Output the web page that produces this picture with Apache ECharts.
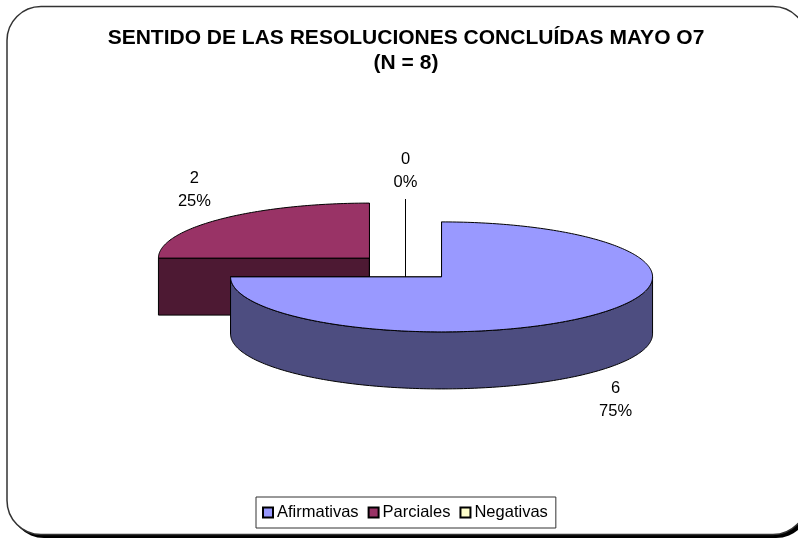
<!DOCTYPE html>
<html>
<head>
<meta charset="utf-8">
<style>html,body{margin:0;padding:0;background:#fff}#c{width:798px;height:538px}</style>
<script src="https://cdn.jsdelivr.net/npm/echarts@6/dist/echarts.min.js"></script>
</head>
<body>
<div id="c"></div>
<script>
const categories = ['Afirmativas', 'Parciales', 'Negativas'];
const values = [6, 2, 0];
const titleLines = ['SENTIDO DE LAS RESOLUCIONES CONCLUÍDAS MAYO O7', '(N = 8)'];

// Styling and layout (not data)
const topColors = ['#9999FF', '#993366', '#FFFFCC'];
const wallColors = ['#4D4D80', '#4D1933', '#808066'];
const labelOffsets = [[174, 123.5], [-175, -68], [0, -83]];
const drawOrder = [1, 2, 0];
const pie = { cx: 405.5, cy: 267.5, rx: 211, ry: 55, depth: 57, explode: 51 };
const FONT = '"Liberation Sans", Arial, sans-serif';

const total = values.reduce((a, b) => a + b, 0);
const startAngles = [];
values.reduce((acc, v, i) => { startAngles[i] = acc; return acc + v / total * 360; }, 0);

function renderSlice(idx) {
  return function (params, api) {
    const v = api.value(0);
    const a0 = startAngles[idx];
    const a1 = a0 + v / total * 360;
    const rad = d => d * Math.PI / 180;
    const mid = rad((a0 + a1) / 2);
    const cx = pie.cx + pie.explode * Math.sin(mid);
    const cy = pie.cy - pie.explode * Math.cos(mid) * pie.ry / pie.rx;
    const pt = (d, dy) => [cx + pie.rx * Math.sin(rad(d)), cy - pie.ry * Math.cos(rad(d)) + (dy || 0)];
    const arc = (from, to, dy) => {
      const n = Math.max(1, Math.ceil(Math.abs(to - from)));
      const out = [];
      for (let i = 0; i <= n; i++) out.push(pt(from + (to - from) * i / n, dy));
      return out;
    };
    const wallStyle = { fill: wallColors[idx], stroke: '#000', lineWidth: 1 };
    const children = [];
    // radial faces
    [a0, a1].forEach(d => {
      const e = pt(d);
      children.push({
        type: 'polygon',
        shape: { points: [[cx, cy], e, [e[0], e[1] + pie.depth], [cx, cy + pie.depth]] },
        style: wallStyle
      });
    });
    // outer wall: front half of the ellipse only
    const ws = Math.max(a0, 90), we = Math.min(a1, 270);
    if (we > ws) {
      children.push({
        type: 'polygon',
        shape: { points: arc(ws, we, 0).concat(arc(we, ws, pie.depth)) },
        style: wallStyle
      });
    }
    // top face
    children.push({
      type: 'polygon',
      shape: { points: [[cx, cy]].concat(arc(a0, a1, 0)) },
      style: { fill: topColors[idx], stroke: '#000', lineWidth: 1 }
    });
    // label
    children.push({
      type: 'text',
      x: cx + labelOffsets[idx][0],
      y: cy + labelOffsets[idx][1],
      style: {
        text: v + '\n' + Math.round(v / total * 100) + '%',
        fill: '#000',
        font: '16.5px ' + FONT,
        lineHeight: 23,
        align: 'center',
        verticalAlign: 'middle'
      }
    });
    return { type: 'group', children };
  };
}

const chart = echarts.init(document.getElementById('c'), null, { renderer: 'canvas' });
chart.setOption({
  animation: false,
  backgroundColor: '#fff',
  title: {
    text: titleLines.join('\n'),
    left: 406,
    top: 26,
    padding: 0,
    textAlign: 'center',
    textStyle: { fontFamily: FONT, fontWeight: 'bold', fontSize: 21, lineHeight: 25, color: '#000' }
  },
  legend: {
    data: categories,
    left: 256,
    top: 497,
    orient: 'horizontal',
    itemWidth: 10,
    itemHeight: 10,
    itemGap: 9,
    padding: [7, 8, 7, 6],
    borderColor: '#333',
    borderWidth: 1,
    backgroundColor: '#fff',
    icon: 'rect',
    selectedMode: false,
    textStyle: { fontFamily: FONT, fontSize: 16.5, color: '#000', padding: [0, 0, 0, -1] }
  },
  graphic: [
    { type: 'rect', z: 0, shape: { x: 10, y: 9, width: 800, height: 529, r: 34 }, style: { fill: '#000' } },
    { type: 'rect', z: 0, shape: { x: 7, y: 6.5, width: 800, height: 528, r: 34 }, style: { fill: '#fff', stroke: '#333', lineWidth: 1.5 } }
  ],
  series: drawOrder.map(i => ({
    type: 'custom',
    name: categories[i],
    coordinateSystem: 'none',
    z: 3 + drawOrder.indexOf(i),
    itemStyle: { color: topColors[i], borderColor: '#000', borderWidth: 1 },
    renderItem: renderSlice(i),
    data: [[values[i]]]
  }))
});
</script>
</body>
</html>
